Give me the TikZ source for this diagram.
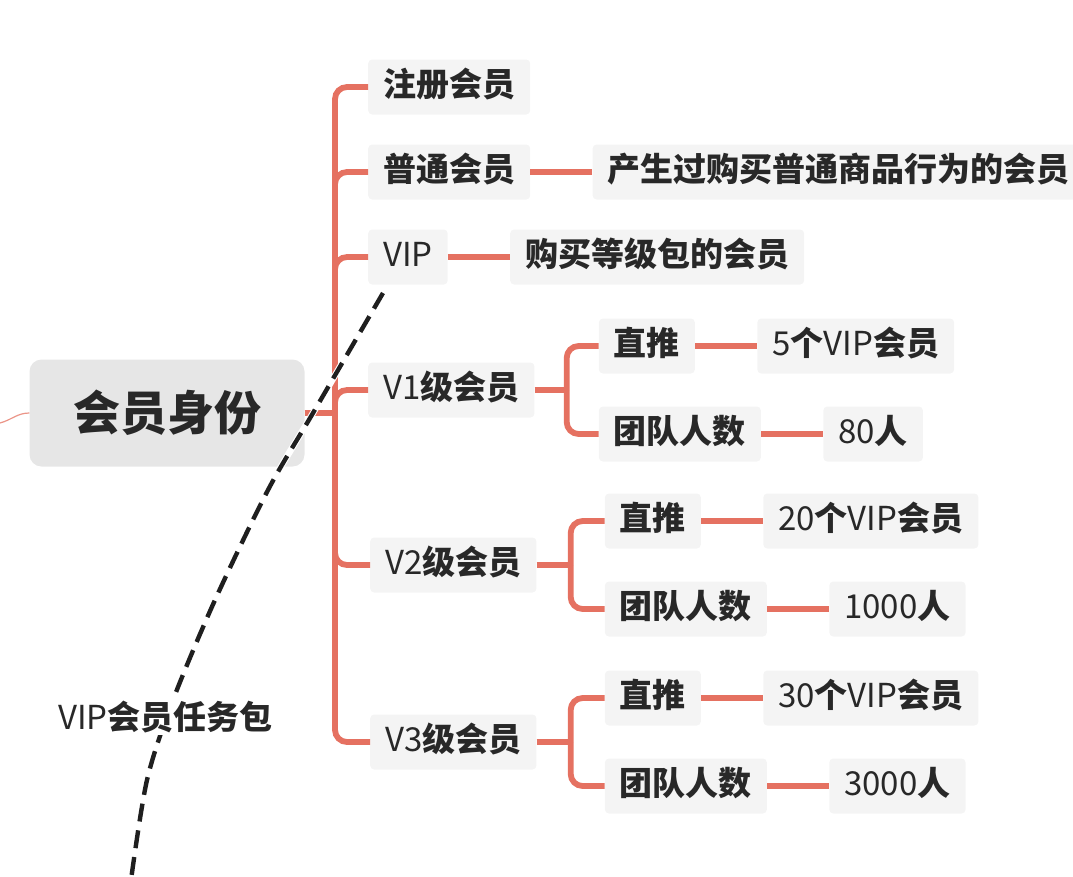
\documentclass[tikz,border=0pt]{standalone}
\usepackage{fontspec}
\usepackage{tikz}
\usetikzlibrary{positioning}
\setmainfont{Noto Sans CJK SC}
\definecolor{branchred}{RGB}{229, 113, 97}
\definecolor{boxgray}{RGB}{244, 244, 244}
\definecolor{rootgray}{RGB}{230, 230, 230}
\definecolor{inkgray}{RGB}{40, 40, 40}
\newcommand{\lat}[1]{{\mdseries #1}}

\begin{document}
\begin{tikzpicture}[
    x=1pt, y=-1pt,
    node distance=62pt,
    every node/.style={align=center, text=inkgray},
    root/.style={rectangle, rounded corners=12pt, minimum width=275pt, minimum height=107pt, fill=rootgray, font=\fontsize{47}{52}\selectfont\bfseries},
    item/.style={rectangle, rounded corners=4pt, inner xsep=15pt, inner ysep=12pt, text height=25pt, text depth=6pt, fill=boxgray, font=\fontsize{33}{36}\selectfont\bfseries},
    link/.style={line width=5.8pt, draw=branchred},
    fork/.style={link, rounded corners=12pt},
    faint/.style={line width=1.2pt, draw=branchred!75},
    cut/.style={line width=4.4pt, draw=black!88, dash pattern=on 18pt off 9pt},
    halo/.style={line width=6.5pt, draw=white},
    tasklabel/.style={fill=white, inner sep=2pt, font=\fontsize{33}{36}\selectfont\bfseries}
]
\useasboundingbox (0,0) rectangle (1073,876);

% Root
\node[root] (identity) at (167,413) {会员身份};
\coordinate (trunk) at (335,413);
\coordinate (leftend) at (0,423);

% Member types
\node[item, anchor=west] (register) at (368,87) {注册会员};
\node[item, anchor=west] (regular) at (368,172) {普通会员};
\node[item, anchor=west] (vip) at (368,257) {\lat{VIP}};
\node[item, anchor=west] (vone) at (368,390) {\lat{V1}级会员};
\node[item, anchor=west] (vtwo) at (370,565) {\lat{V2}级会员};
\node[item, anchor=west] (vthree) at (370,742) {\lat{V3}级会员};

% Descriptions
\node[item, right=of regular] (regulardesc) {产生过购买普通商品行为的会员};
\node[item, right=of vip] (vipdesc) {购买等级包的会员};

% V1 requirements
\coordinate[right=32pt of vone] (vonefork);
\node[item, right=64pt of vone, yshift=44pt] (vonepush) {直推};
\node[item, right=64pt of vone, yshift=-44pt] (voneteam) {团队人数};
\node[item, right=of vonepush] (vonepushnum) {\lat{5}个\lat{VIP}会员};
\node[item, right=of voneteam] (voneteamnum) {\lat{80}人};

% V2 requirements
\coordinate[right=34pt of vtwo] (vtwofork);
\node[item, right=68pt of vtwo, yshift=44pt] (vtwopush) {直推};
\node[item, right=68pt of vtwo, yshift=-44pt] (vtwoteam) {团队人数};
\node[item, right=of vtwopush] (vtwopushnum) {\lat{20}个\lat{VIP}会员};
\node[item, right=of vtwoteam] (vtwoteamnum) {\lat{1000}人};

% V3 requirements
\coordinate[right=34pt of vthree] (vthreefork);
\node[item, right=68pt of vthree, yshift=44pt] (vthreepush) {直推};
\node[item, right=68pt of vthree, yshift=-44pt] (vthreeteam) {团队人数};
\node[item, right=of vthreepush] (vthreepushnum) {\lat{30}个\lat{VIP}会员};
\node[item, right=of vthreeteam] (vthreeteamnum) {\lat{3000}人};

% Connections
\draw[faint] (leftend) to[out=15, in=180] (identity.west);
\draw[link] (identity.east) -- (trunk);
\draw[fork] (trunk) |- (register.west);
\draw[fork] (trunk) |- (regular.west);
\draw[fork] (trunk) |- (vip.west);
\draw[fork] (trunk) |- (vone.west);
\draw[fork] (trunk) |- (vtwo.west);
\draw[fork] (trunk) |- (vthree.west);
\draw[link] (regular) -- (regulardesc);
\draw[link] (vip) -- (vipdesc);

\draw[link] (vone.east) -- (vonefork);
\draw[fork] (vonefork) |- (vonepush.west);
\draw[fork] (vonefork) |- (voneteam.west);
\draw[link] (vonepush) -- (vonepushnum);
\draw[link] (voneteam) -- (voneteamnum);

\draw[link] (vtwo.east) -- (vtwofork);
\draw[fork] (vtwofork) |- (vtwopush.west);
\draw[fork] (vtwofork) |- (vtwoteam.west);
\draw[link] (vtwopush) -- (vtwopushnum);
\draw[link] (vtwoteam) -- (vtwoteamnum);

\draw[link] (vthree.east) -- (vthreefork);
\draw[fork] (vthreefork) |- (vthreepush.west);
\draw[fork] (vthreefork) |- (vthreeteam.west);
\draw[link] (vthreepush) -- (vthreepushnum);
\draw[link] (vthreeteam) -- (vthreeteamnum);

% Task package boundary
\draw[halo] plot[smooth] coordinates {(383,293) (313,413) (268,490) (215,600) (173,700) (147,780) (131,880)};
\draw[cut] plot[smooth] coordinates {(383,293) (313,413) (268,490) (215,600) (173,700) (147,780) (131,880)};
\node[tasklabel, anchor=west] (task) at (56,717) {\lat{VIP}会员任务包};

\end{tikzpicture}
\end{document}
